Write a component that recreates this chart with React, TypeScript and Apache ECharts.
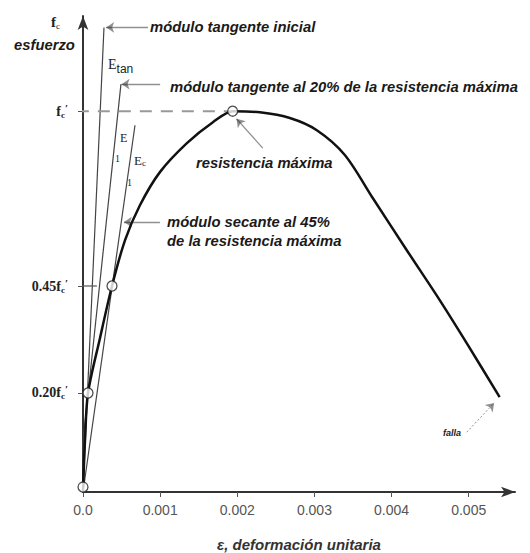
import React, { useEffect, useRef } from "react";
import * as echarts from "echarts";

// strain (x) vs normalized stress (y, drawn positions of the original figure)
const curveStrain = [0, 0.000026, 0.000065, 0.00022, 0.000376, 0.000544, 0.000738, 0.000997, 0.001347, 0.001684, 0.001943, 0.002293, 0.002681, 0.003031, 0.003394, 0.003756, 0.004197, 0.004624, 0.004974, 0.005401];
const curveStress = [0, 0.136, 0.26, 0.404, 0.541, 0.661, 0.753, 0.84, 0.916, 0.971, 1.0, 0.997, 0.982, 0.95, 0.885, 0.772, 0.635, 0.504, 0.391, 0.249];

const xTicks = [0, 0.001, 0.002, 0.003, 0.004, 0.005];
const xTickLabels = ["0.0", "0.001", "0.002", "0.003", "0.004", "0.005"];
const yTicks = [0.26, 0.54, 1.0];
const yTickLabels = ["0.20f{s|c}{p|′}", "0.45f{s|c}{p|′}", "f{s|c}{p|′}"];

// key points (hollow circles)
const keyStrain = [0, 0.000065, 0.000376, 0.00194];
const keyStress = [0.013, 0.26, 0.541, 1.0];

// modulus lines
const initialTangent = [[0, 0], [0.000272, 1.22]];
const tangent20 = [[-0.00007, 0], [0.000492, 1.071]];
const secant45 = [[0, 0], [0.000674, 0.963]];
const peakDash = [[-0.00008, 1.0], [0.00194, 1.0]];
const tick45 = [[-0.00008, 0.541], [0.00018, 0.541]];

// annotation arrows
const arrows = [
  { from: [0.000842, 1.22], to: [0.0003, 1.22], dashed: false },
  { from: [0.001, 1.071], to: [0.0005, 1.071], dashed: false },
  { from: [0.000997, 0.709], to: [0.00053, 0.709], dashed: false },
  { from: [0.00233, 0.903], to: [0.00199, 0.98], dashed: false },
  { from: [0.004974, 0.157], to: [0.00533, 0.234], dashed: true },
];

const labelFont = '"Liberation Sans", Arial, sans-serif';
const serifFont = '"Liberation Serif", "DejaVu Serif", serif';

export default function App() {
  const ref = useRef<HTMLDivElement>(null);
  useEffect(() => {
    if (!ref.current) return;
    const chart = echarts.init(ref.current, null, { renderer: "svg" });
    const thin = { color: "#444", width: 1.2 };
    const ann = (text: string, x: number, y: number, size = 14.8) => ({
      type: "text",
      x,
      y,
      style: {
        text,
        font: `italic bold ${size}px ${labelFont}`,
        fill: "#1a1a1a",
        textVerticalAlign: "middle",
      },
    });
    const serifTxt = (text: string, x: number, y: number, size = 13) => ({
      type: "text",
      x,
      y,
      style: { text, font: `${size}px ${serifFont}`, fill: "#222", textVerticalAlign: "middle" },
    });
    chart.setOption({
      animation: false,
      backgroundColor: "#fff",
      grid: { left: 83, right: 15, top: 16, bottom: 61, outerBoundsMode: "none" },
      xAxis: {
        type: "value",
        min: 0,
        max: 0.0056,
        interval: 0.001,
        splitLine: { show: false },
        axisLine: { show: true, symbol: ["none", "arrow"], symbolSize: [8, 14], lineStyle: { color: "#333", width: 2 } },
        axisTick: { show: true, customValues: xTicks, length: 5, lineStyle: { color: "#555" } },
        axisLabel: {
          customValues: xTicks,
          margin: 11,
          color: "#555",
          fontSize: 14,
          fontFamily: labelFont,
          formatter: (v: number) => {
            const i = xTicks.findIndex((t) => Math.abs(t - v) < 1e-9);
            return i >= 0 ? xTickLabels[i] : "";
          },
        },
        name: "ε, deformación unitaria",
        nameLocation: "middle",
        nameGap: 45,
        nameTextStyle: { fontSize: 15, fontStyle: "italic", fontFamily: labelFont, color: "#333", fontWeight: "bold" },
      },
      yAxis: {
        type: "value",
        min: 0,
        max: 1.25,
        splitLine: { show: false },
        axisLine: { show: true, symbol: ["none", "arrow"], symbolSize: [8, 14], lineStyle: { color: "#333", width: 2 } },
        axisTick: { show: true, customValues: yTicks, length: 5, lineStyle: { color: "#555" } },
        axisLabel: {
          customValues: yTicks,
          margin: 15,
          color: "#222",
          fontSize: 14,
          fontFamily: serifFont,
          fontWeight: "bold",
          formatter: (v: number) => {
            const i = yTicks.findIndex((t) => Math.abs(t - v) < 1e-9);
            return i >= 0 ? yTickLabels[i] : "";
          },
          rich: {
            s: { fontSize: 9, fontFamily: serifFont, color: "#222", padding: [7, 0, 0, 0] },
            p: { fontSize: 11, fontFamily: serifFont, color: "#222", padding: [0, 0, 7, 0] },
          },
        },
      },
      series: [
        { type: "line", data: initialTangent, symbol: "none", lineStyle: thin, clip: false, silent: true },
        { type: "line", data: tangent20, symbol: "none", lineStyle: thin, clip: false, silent: true },
        { type: "line", data: secant45, symbol: "none", lineStyle: thin, clip: false, silent: true },
        { type: "line", data: peakDash, symbol: "none", lineStyle: { color: "#999", width: 2, type: [12, 9] }, clip: false, silent: true },
        { type: "line", data: tick45, symbol: "none", lineStyle: { color: "#555", width: 1.2 }, clip: false, silent: true },
        {
          type: "line",
          data: curveStrain.map((x, i) => [x, curveStress[i]]),
          symbol: "none",
          smooth: 0.3,
          lineStyle: { color: "#111", width: 2.5 },
          clip: false,
          silent: true,
        },
        {
          type: "lines",
          coordinateSystem: "cartesian2d",
          symbol: ["none", "arrow"],
          symbolSize: 8,
          silent: true,
          data: arrows.map((a) => ({
            coords: [a.from, a.to],
            lineStyle: { color: "#222", width: a.dashed ? 1 : 1.3, type: a.dashed ? [2, 2] : "solid" },
          })),
        },
        {
          type: "scatter",
          data: keyStrain.map((x, i) => [x, keyStress[i]]),
          symbol: "circle",
          symbolSize: 10,
          itemStyle: { color: "#fff", borderColor: "#222", borderWidth: 1.3 },
          clip: false,
          silent: true,
          z: 5,
        },
      ],
      graphic: [
        {
          type: "text",
          x: 51,
          y: 22,
          style: {
            text: "f{s|c}",
            font: `bold 15px ${serifFont}`,
            fill: "#222",
            textVerticalAlign: "middle",
            rich: { s: { fontSize: 9, fontFamily: serifFont, fill: "#222", padding: [8, 0, 0, 0] } },
          },
        },
        ann("esfuerzo", 14, 45),
        ann("módulo tangente inicial", 150, 27),
        ann("módulo tangente al 20% de la resistencia máxima", 170, 87),
        ann("resistencia máxima", 196, 163),
        ann("módulo secante al 45%", 167, 222),
        ann("de la resistencia máxima", 167, 241),
        ann("falla", 443, 433, 9),
        {
          type: "text",
          x: 108,
          y: 64,
          style: {
            text: "E{s|tan}",
            font: `14px ${serifFont}`,
            fill: "#222",
            textVerticalAlign: "middle",
            rich: { s: { fontSize: 12, fontFamily: labelFont, fill: "#222", padding: [10, 0, 0, 0] } },
          },
        },
        serifTxt("E", 120, 138, 12),
        serifTxt("1", 115, 158, 10),
        {
          type: "text",
          x: 134,
          y: 160,
          style: {
            text: "E{s|c}",
            font: `13px ${serifFont}`,
            fill: "#222",
            textVerticalAlign: "middle",
            rich: { s: { fontSize: 9, fontFamily: serifFont, fill: "#222", padding: [6, 0, 0, 0] } },
          },
        },
        serifTxt("1", 127, 182, 10),
      ],
    });
    return () => chart.dispose();
  }, []);
  return <div ref={ref} style={{ position: "absolute", left: 0, top: 0, width: 530, height: 553 }} />;
}
